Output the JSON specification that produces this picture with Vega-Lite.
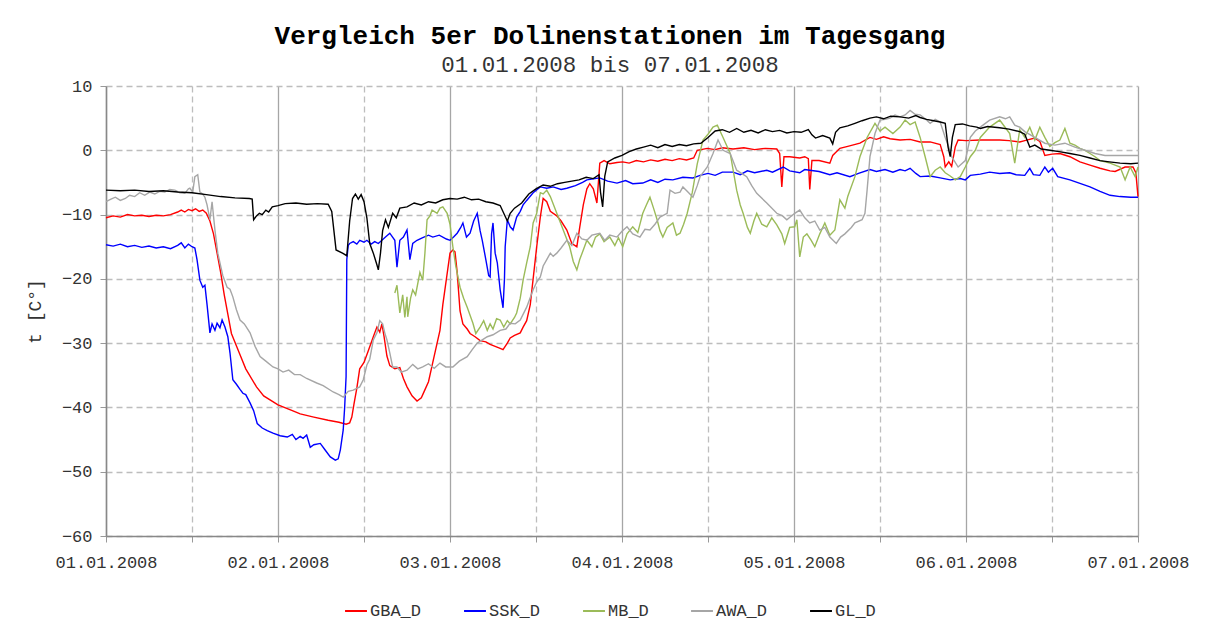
{
"$schema":"https://vega.github.io/schema/vega-lite/v6.json",
"autosize":"none","width":1032,"height":450,
"padding":{"left":106,"top":86,"right":70,"bottom":96},
"background":"white",
"title":{"text":"Vergleich 5er Dolinenstationen im Tagesgang","subtitle":"01.01.2008 bis 07.01.2008","font":"Liberation Mono","fontSize":26,"fontWeight":"bold","color":"#000","subtitleFont":"Liberation Mono","subtitleFontSize":22.5,"subtitleColor":"#333","subtitlePadding":5,"anchor":"middle","frame":"group","offset":1,"dx":-12},
"datasets":{
"GBA_D":[{"h":0,"v":-10.5},{"h":1,"v":-10.2},{"h":2,"v":-10.4},{"h":3,"v":-10.0},{"h":4,"v":-10.2},{"h":5,"v":-10.1},{"h":6,"v":-10.3},{"h":7,"v":-10.1},{"h":8,"v":-10.2},{"h":9,"v":-10.0},{"h":10,"v":-9.6},{"h":10.5,"v":-9.3},{"h":11,"v":-9.6},{"h":11.5,"v":-9.2},{"h":12,"v":-9.4},{"h":12.5,"v":-9.1},{"h":13,"v":-9.5},{"h":13.5,"v":-9.3},{"h":14,"v":-9.8},{"h":14.5,"v":-11},{"h":15,"v":-13},{"h":15.5,"v":-16},{"h":16,"v":-19},{"h":16.5,"v":-22.5},{"h":17,"v":-25.5},{"h":17.5,"v":-28.5},{"h":18.7,"v":-31.8},{"h":19.5,"v":-34},{"h":21,"v":-36.8},{"h":22,"v":-38.2},{"h":24,"v":-39.6},{"h":26,"v":-40.5},{"h":27.1,"v":-41},{"h":29,"v":-41.5},{"h":31,"v":-42},{"h":32.5,"v":-42.3},{"h":33.5,"v":-42.6},{"h":34,"v":-42.4},{"h":34.3,"v":-41.5},{"h":34.6,"v":-39.5},{"h":35,"v":-37},{"h":35.4,"v":-34},{"h":36,"v":-33},{"h":36.5,"v":-31.5},{"h":37.3,"v":-29},{"h":37.8,"v":-27.5},{"h":38.2,"v":-28.3},{"h":38.5,"v":-27},{"h":38.8,"v":-29},{"h":39.2,"v":-32},{"h":39.6,"v":-33.5},{"h":40.3,"v":-34},{"h":41,"v":-33.8},{"h":41.5,"v":-35.5},{"h":42,"v":-36.8},{"h":42.7,"v":-38.2},{"h":43.4,"v":-39},{"h":44,"v":-38.5},{"h":44.4,"v":-37.5},{"h":45,"v":-36},{"h":45.6,"v":-33},{"h":46.2,"v":-30},{"h":46.6,"v":-28},{"h":47,"v":-24},{"h":47.5,"v":-20},{"h":48,"v":-16},{"h":48.4,"v":-15.5},{"h":48.7,"v":-15.8},{"h":49,"v":-19},{"h":49.4,"v":-25},{"h":49.8,"v":-27},{"h":50.4,"v":-27.8},{"h":50.8,"v":-28.5},{"h":51.5,"v":-29},{"h":52.2,"v":-29.6},{"h":53,"v":-29.8},{"h":53.6,"v":-30.2},{"h":54.3,"v":-30.5},{"h":55,"v":-30.8},{"h":55.4,"v":-31},{"h":56,"v":-30},{"h":56.4,"v":-29.2},{"h":57,"v":-28.8},{"h":57.8,"v":-28.4},{"h":58.2,"v":-27.5},{"h":58.7,"v":-26.5},{"h":59.2,"v":-24},{"h":59.6,"v":-20},{"h":60.1,"v":-15},{"h":60.6,"v":-10.4},{"h":61,"v":-7.5},{"h":61.5,"v":-8},{"h":62,"v":-9.5},{"h":62.9,"v":-10.2},{"h":63.5,"v":-11},{"h":64.3,"v":-12.4},{"h":65,"v":-14.5},{"h":65.7,"v":-15},{"h":66.1,"v":-12},{"h":66.6,"v":-8.5},{"h":67.1,"v":-6},{"h":67.5,"v":-5.2},{"h":68,"v":-6},{"h":68.5,"v":-8.2},{"h":68.9,"v":-2},{"h":69.5,"v":-1.6},{"h":70.3,"v":-2.1},{"h":71.3,"v":-1.9},{"h":72.1,"v":-1.8},{"h":73,"v":-2.0},{"h":74,"v":-1.6},{"h":75,"v":-1.8},{"h":76,"v":-1.5},{"h":77,"v":-1.7},{"h":78,"v":-1.4},{"h":79,"v":-1.6},{"h":80,"v":-1.3},{"h":81,"v":-1.5},{"h":82,"v":-1.2},{"h":82.5,"v":0},{"h":83.9,"v":0.3},{"h":85,"v":0.1},{"h":86,"v":0.4},{"h":87.5,"v":0.2},{"h":89,"v":0.4},{"h":90.5,"v":0.1},{"h":92,"v":0.3},{"h":93.6,"v":0.2},{"h":94,"v":-0.5},{"h":94.3,"v":-5.7},{"h":94.6,"v":-1.0},{"h":95.4,"v":-1.0},{"h":96.8,"v":-1.2},{"h":97.5,"v":-1.0},{"h":98,"v":-1.3},{"h":98.2,"v":-6.1},{"h":98.5,"v":-1.6},{"h":99.5,"v":-1.6},{"h":101,"v":-2.0},{"h":101.4,"v":-0.8},{"h":102.4,"v":0.3},{"h":103.5,"v":0.6},{"h":105.2,"v":1.1},{"h":106.6,"v":2.0},{"h":107.5,"v":1.7},{"h":108.5,"v":2.1},{"h":109.4,"v":1.8},{"h":110.8,"v":1.6},{"h":112.2,"v":1.7},{"h":113.6,"v":1.3},{"h":115,"v":1.3},{"h":116.4,"v":0.9},{"h":116.9,"v":-1},{"h":117.1,"v":-2.6},{"h":117.6,"v":-1.8},{"h":118,"v":-2.5},{"h":118.5,"v":0.5},{"h":118.9,"v":1.6},{"h":120,"v":1.5},{"h":122,"v":1.6},{"h":124.7,"v":1.6},{"h":126,"v":1.5},{"h":127.5,"v":1.3},{"h":128.2,"v":1.5},{"h":129.6,"v":1.9},{"h":130.3,"v":1.4},{"h":131,"v":-0.8},{"h":132,"v":-0.6},{"h":133.1,"v":-0.5},{"h":134.5,"v":-1.0},{"h":135.9,"v":-1.8},{"h":137.3,"v":-2.3},{"h":138.7,"v":-2.8},{"h":140.1,"v":-3.2},{"h":140.8,"v":-3.3},{"h":142.2,"v":-2.6},{"h":143.3,"v":-2.6},{"h":143.7,"v":-3.5},{"h":144,"v":-7.2}],
"SSK_D":[{"h":0,"v":-14.7},{"h":1,"v":-14.9},{"h":2,"v":-14.6},{"h":3,"v":-15.0},{"h":4,"v":-14.8},{"h":5,"v":-15.1},{"h":6,"v":-14.9},{"h":7,"v":-15.2},{"h":8,"v":-15.0},{"h":9,"v":-15.3},{"h":10,"v":-14.8},{"h":10.5,"v":-14.4},{"h":11,"v":-15.2},{"h":11.5,"v":-14.6},{"h":12,"v":-15.0},{"h":12.4,"v":-15.2},{"h":12.7,"v":-17},{"h":13.1,"v":-20.2},{"h":13.5,"v":-21.3},{"h":13.8,"v":-21.0},{"h":14.1,"v":-24},{"h":14.5,"v":-28.4},{"h":14.8,"v":-27},{"h":15.2,"v":-28.0},{"h":15.5,"v":-26.9},{"h":15.9,"v":-27.6},{"h":16.2,"v":-26.4},{"h":16.6,"v":-27.5},{"h":17,"v":-29},{"h":17.3,"v":-31.5},{"h":17.7,"v":-35.7},{"h":18.2,"v":-36.4},{"h":18.7,"v":-37.2},{"h":19.1,"v":-37.8},{"h":19.5,"v":-38.0},{"h":20.1,"v":-39.3},{"h":20.6,"v":-40.5},{"h":21.1,"v":-42.5},{"h":21.8,"v":-43.2},{"h":22.5,"v":-43.6},{"h":23.3,"v":-44},{"h":24.3,"v":-44.4},{"h":25.3,"v":-44.6},{"h":26,"v":-44.2},{"h":26.5,"v":-45},{"h":27.1,"v":-44.5},{"h":27.5,"v":-44.8},{"h":28,"v":-44.3},{"h":28.5,"v":-46.2},{"h":29,"v":-45.8},{"h":29.9,"v":-45.6},{"h":30.5,"v":-46.5},{"h":31.3,"v":-47.7},{"h":32,"v":-48.2},{"h":32.4,"v":-48},{"h":32.7,"v":-46.6},{"h":33.1,"v":-43.5},{"h":33.3,"v":-40},{"h":33.5,"v":-35.2},{"h":33.6,"v":-17},{"h":33.8,"v":-14.8},{"h":34,"v":-14.5},{"h":34.5,"v":-14.2},{"h":35,"v":-14.6},{"h":35.4,"v":-14.0},{"h":36,"v":-14.3},{"h":36.4,"v":-14.0},{"h":37,"v":-14.6},{"h":37.5,"v":-14.2},{"h":38,"v":-14.5},{"h":38.5,"v":-14.0},{"h":39,"v":-13.5},{"h":39.6,"v":-12.9},{"h":40.3,"v":-14},{"h":40.6,"v":-18.2},{"h":41,"v":-14},{"h":41.5,"v":-13.5},{"h":42,"v":-12.4},{"h":42.4,"v":-17},{"h":42.8,"v":-14.5},{"h":43.4,"v":-14},{"h":44.2,"v":-13.6},{"h":45,"v":-13.2},{"h":45.6,"v":-13.5},{"h":46.5,"v":-13.2},{"h":47.5,"v":-13.8},{"h":48,"v":-14},{"h":48.5,"v":-13.5},{"h":49,"v":-12.9},{"h":49.5,"v":-12},{"h":49.8,"v":-11.3},{"h":50.3,"v":-13.5},{"h":50.8,"v":-12.9},{"h":51.3,"v":-11},{"h":51.8,"v":-9.8},{"h":52.2,"v":-12.5},{"h":52.5,"v":-14},{"h":53,"v":-17},{"h":53.4,"v":-19.5},{"h":53.6,"v":-19.7},{"h":53.8,"v":-13},{"h":54,"v":-11.3},{"h":54.3,"v":-16},{"h":54.6,"v":-17.5},{"h":55,"v":-21.7},{"h":55.4,"v":-24.5},{"h":55.6,"v":-20},{"h":55.7,"v":-15},{"h":56,"v":-10.8},{"h":56.4,"v":-11.9},{"h":56.8,"v":-12.4},{"h":57.3,"v":-10.4},{"h":57.8,"v":-9.5},{"h":58.2,"v":-8.5},{"h":58.7,"v":-7.8},{"h":59.6,"v":-6.6},{"h":60.6,"v":-5.7},{"h":61.5,"v":-5.9},{"h":62.4,"v":-5.7},{"h":63.5,"v":-6.1},{"h":64.3,"v":-5.9},{"h":65.5,"v":-5.5},{"h":66.5,"v":-5.0},{"h":67.1,"v":-4.6},{"h":68.9,"v":-4.3},{"h":70,"v":-4.8},{"h":71.3,"v":-5.1},{"h":72.5,"v":-4.7},{"h":73.5,"v":-5.2},{"h":74.9,"v":-5.1},{"h":76,"v":-4.6},{"h":77,"v":-5.0},{"h":78,"v":-4.5},{"h":79.1,"v":-4.6},{"h":80.5,"v":-4.2},{"h":81.9,"v":-4.3},{"h":82.9,"v":-3.9},{"h":84,"v":-3.6},{"h":85,"v":-3.9},{"h":86,"v":-3.4},{"h":87.5,"v":-3.4},{"h":88.5,"v":-3.8},{"h":89.5,"v":-3.2},{"h":90.5,"v":-3.5},{"h":92.2,"v":-3.1},{"h":93,"v":-3.4},{"h":94.5,"v":-2.6},{"h":95.4,"v":-3.2},{"h":96.8,"v":-3.5},{"h":97.5,"v":-3.0},{"h":98.2,"v":-3.1},{"h":99.5,"v":-3.3},{"h":101,"v":-3.8},{"h":102,"v":-3.5},{"h":103.8,"v":-4.1},{"h":105,"v":-3.6},{"h":106.6,"v":-3.0},{"h":107.5,"v":-3.3},{"h":108.7,"v":-3.0},{"h":109.8,"v":-3.4},{"h":110.8,"v":-3.0},{"h":111.5,"v":-3.2},{"h":112.2,"v":-2.8},{"h":113,"v":-3.6},{"h":113.6,"v":-4.1},{"h":115,"v":-4.0},{"h":116.4,"v":-4.3},{"h":117.8,"v":-4.6},{"h":119.2,"v":-4.4},{"h":119.9,"v":-4.6},{"h":120.6,"v":-3.9},{"h":122,"v":-3.7},{"h":123.3,"v":-3.4},{"h":124.7,"v":-3.6},{"h":126.1,"v":-3.5},{"h":127,"v":-3.8},{"h":128.2,"v":-3.9},{"h":128.9,"v":-2.8},{"h":129.4,"v":-3.8},{"h":130.3,"v":-3.9},{"h":131,"v":-2.6},{"h":131.5,"v":-3.4},{"h":132.1,"v":-2.8},{"h":132.8,"v":-4.1},{"h":134.5,"v":-4.6},{"h":136,"v":-5.2},{"h":137.3,"v":-5.7},{"h":138.7,"v":-6.4},{"h":140.1,"v":-7.0},{"h":141.5,"v":-7.2},{"h":143,"v":-7.3},{"h":144,"v":-7.3}],
"MB_D":[{"h":40.3,"v":-22.2},{"h":40.6,"v":-21.0},{"h":41,"v":-25.3},{"h":41.4,"v":-22.5},{"h":41.7,"v":-26},{"h":42,"v":-22.8},{"h":42.1,"v":-25.9},{"h":42.5,"v":-23},{"h":42.8,"v":-21.7},{"h":43.2,"v":-22.5},{"h":43.8,"v":-19},{"h":44.2,"v":-20.2},{"h":44.5,"v":-16},{"h":44.8,"v":-10.8},{"h":45.2,"v":-10.2},{"h":45.5,"v":-9.3},{"h":46.2,"v":-9.8},{"h":46.6,"v":-9.0},{"h":47,"v":-8.8},{"h":47.6,"v":-9.8},{"h":48,"v":-11.5},{"h":48.4,"v":-15},{"h":48.8,"v":-18},{"h":49.4,"v":-21.3},{"h":49.9,"v":-23},{"h":50.4,"v":-24.4},{"h":51.2,"v":-26.9},{"h":51.6,"v":-28.5},{"h":52.2,"v":-27.5},{"h":52.7,"v":-26.5},{"h":53.2,"v":-28},{"h":53.6,"v":-27},{"h":54,"v":-27.8},{"h":54.5,"v":-26.2},{"h":55,"v":-26.4},{"h":55.5,"v":-27.5},{"h":56,"v":-26.5},{"h":56.4,"v":-27},{"h":57,"v":-26},{"h":57.3,"v":-25.3},{"h":57.8,"v":-23},{"h":58.2,"v":-20.2},{"h":58.7,"v":-17.5},{"h":59.2,"v":-15},{"h":59.6,"v":-11.3},{"h":60.1,"v":-9.8},{"h":60.6,"v":-6.6},{"h":61,"v":-6.8},{"h":61.5,"v":-6.2},{"h":62,"v":-7.2},{"h":62.9,"v":-9.8},{"h":63.8,"v":-12.4},{"h":64.7,"v":-15},{"h":65.2,"v":-17.3},{"h":65.7,"v":-18.6},{"h":66.1,"v":-17},{"h":66.6,"v":-15.5},{"h":67.1,"v":-14},{"h":67.8,"v":-15},{"h":68.3,"v":-13.5},{"h":68.9,"v":-13},{"h":69.5,"v":-14.2},{"h":70.3,"v":-13.5},{"h":71,"v":-14.8},{"h":71.5,"v":-13.6},{"h":72.1,"v":-15},{"h":72.7,"v":-13},{"h":73.5,"v":-11.9},{"h":74.2,"v":-12.8},{"h":74.9,"v":-9.8},{"h":75.4,"v":-8.5},{"h":75.9,"v":-7.3},{"h":76.4,"v":-9},{"h":76.9,"v":-10.8},{"h":77.3,"v":-12.5},{"h":77.7,"v":-13.5},{"h":78.3,"v":-12},{"h":79.1,"v":-11.3},{"h":79.6,"v":-13.2},{"h":80.1,"v":-12.9},{"h":80.6,"v":-11.5},{"h":81.1,"v":-9.8},{"h":81.8,"v":-6.6},{"h":82.5,"v":-2.1},{"h":83.3,"v":1.6},{"h":84,"v":2.5},{"h":84.7,"v":3.6},{"h":85.3,"v":3.9},{"h":86.1,"v":2.0},{"h":87.1,"v":-0.5},{"h":88,"v":-6.2},{"h":88.5,"v":-8.5},{"h":88.9,"v":-9.8},{"h":89.5,"v":-12.0},{"h":89.9,"v":-12.9},{"h":90.4,"v":-11},{"h":90.8,"v":-9.8},{"h":91.5,"v":-11.5},{"h":92.2,"v":-11.9},{"h":92.9,"v":-10.5},{"h":93.6,"v":-11.6},{"h":94.3,"v":-13},{"h":94.7,"v":-14.5},{"h":95.4,"v":-12},{"h":96.1,"v":-11.9},{"h":96.4,"v":-10.8},{"h":96.8,"v":-16.6},{"h":97.3,"v":-13.5},{"h":97.8,"v":-13},{"h":98.4,"v":-14},{"h":98.9,"v":-15},{"h":99.6,"v":-13},{"h":100.3,"v":-11.3},{"h":101,"v":-13.2},{"h":101.7,"v":-12.4},{"h":102.4,"v":-7.7},{"h":103.1,"v":-9},{"h":103.5,"v":-7.2},{"h":104.5,"v":-4.1},{"h":105.2,"v":-1},{"h":106.2,"v":2},{"h":107.3,"v":4.2},{"h":108,"v":3.0},{"h":108.7,"v":3.6},{"h":109.8,"v":2.6},{"h":110.8,"v":3.6},{"h":111.5,"v":4.7},{"h":112.2,"v":4.0},{"h":112.9,"v":4.4},{"h":113.6,"v":2},{"h":114.3,"v":-1},{"h":115,"v":-4.1},{"h":115.7,"v":-3.1},{"h":116.4,"v":-2.6},{"h":117.1,"v":-3.5},{"h":117.8,"v":-4.0},{"h":118.5,"v":-4.6},{"h":119.2,"v":-4.1},{"h":119.9,"v":-2.6},{"h":120.6,"v":-1.0},{"h":121.3,"v":0},{"h":122,"v":2},{"h":123.3,"v":3.6},{"h":124.7,"v":4.7},{"h":125.5,"v":3.5},{"h":126.1,"v":2.6},{"h":126.8,"v":-2},{"h":127.5,"v":3.2},{"h":128.2,"v":2.0},{"h":128.9,"v":3.6},{"h":129.6,"v":1.6},{"h":130.3,"v":3.6},{"h":131,"v":2},{"h":131.7,"v":0.6},{"h":132.4,"v":1.2},{"h":133.1,"v":1.6},{"h":133.8,"v":3.4},{"h":134.5,"v":1.1},{"h":135.2,"v":0.8},{"h":135.9,"v":0.3},{"h":136.6,"v":0},{"h":137.3,"v":-0.5},{"h":138,"v":-1.0},{"h":138.7,"v":-1.6},{"h":139.4,"v":-1.8},{"h":140.1,"v":-2.0},{"h":140.8,"v":-2.3},{"h":141.5,"v":-2.6},{"h":142.2,"v":-4.6},{"h":142.9,"v":-2.6},{"h":143.6,"v":-4.1},{"h":144,"v":-2.6}],
"AWA_D":[{"h":0,"v":-8.0},{"h":0.7,"v":-7.6},{"h":1.3,"v":-7.3},{"h":2,"v":-7.8},{"h":2.7,"v":-7.5},{"h":3.3,"v":-7.0},{"h":4,"v":-7.2},{"h":4.7,"v":-6.6},{"h":5.4,"v":-7.0},{"h":6.1,"v":-6.5},{"h":6.8,"v":-6.8},{"h":7.5,"v":-6.4},{"h":8.2,"v":-6.5},{"h":8.9,"v":-6.1},{"h":9.6,"v":-6.2},{"h":10.3,"v":-6.6},{"h":11,"v":-6.7},{"h":11.5,"v":-6.0},{"h":11.7,"v":-5.9},{"h":12.1,"v":-6.5},{"h":12.4,"v":-4.1},{"h":12.8,"v":-3.8},{"h":13.1,"v":-6.5},{"h":13.5,"v":-6.8},{"h":13.8,"v":-7.3},{"h":14.1,"v":-8.5},{"h":14.5,"v":-10.8},{"h":14.8,"v":-8},{"h":15.2,"v":-12.4},{"h":15.6,"v":-16},{"h":15.9,"v":-17.5},{"h":16.3,"v":-19.5},{"h":16.9,"v":-21.3},{"h":17.3,"v":-21.6},{"h":17.7,"v":-22.8},{"h":18.2,"v":-24.8},{"h":18.7,"v":-26.4},{"h":19.3,"v":-27.0},{"h":20.1,"v":-28.4},{"h":20.8,"v":-30.5},{"h":21.5,"v":-32.1},{"h":22.3,"v":-32.8},{"h":23.3,"v":-33.7},{"h":24,"v":-34.0},{"h":24.7,"v":-34.5},{"h":25.5,"v":-34.2},{"h":26.3,"v":-34.9},{"h":27.1,"v":-34.9},{"h":28,"v":-35.5},{"h":29.4,"v":-36.2},{"h":30.3,"v":-36.6},{"h":31.7,"v":-37.6},{"h":32.5,"v":-38.0},{"h":33.1,"v":-38.4},{"h":33.8,"v":-37.5},{"h":34.5,"v":-37.3},{"h":35.4,"v":-36.8},{"h":35.9,"v":-35.7},{"h":36.4,"v":-33.4},{"h":36.8,"v":-32.5},{"h":37.3,"v":-29.5},{"h":37.8,"v":-28.4},{"h":38.2,"v":-26.5},{"h":38.6,"v":-27.0},{"h":38.9,"v":-28.4},{"h":39.2,"v":-29.5},{"h":39.6,"v":-31.5},{"h":40,"v":-33.7},{"h":40.6,"v":-33.7},{"h":41.2,"v":-34.5},{"h":42,"v":-34.2},{"h":42.8,"v":-33.3},{"h":43.5,"v":-34.0},{"h":44.2,"v":-33.7},{"h":45,"v":-33.2},{"h":45.8,"v":-33.9},{"h":46.6,"v":-33.1},{"h":47.4,"v":-33.7},{"h":48.4,"v":-33.7},{"h":49.3,"v":-32.8},{"h":50.4,"v":-32.1},{"h":51.1,"v":-31},{"h":51.8,"v":-30},{"h":52.5,"v":-29.5},{"h":53.2,"v":-29},{"h":54,"v":-28.7},{"h":55,"v":-28},{"h":55.8,"v":-27.8},{"h":56.4,"v":-26.9},{"h":57.1,"v":-27},{"h":57.8,"v":-26.4},{"h":58.7,"v":-24.4},{"h":59.6,"v":-21.7},{"h":60.1,"v":-20.5},{"h":60.6,"v":-19.7},{"h":61,"v":-18.0},{"h":61.5,"v":-17.0},{"h":62,"v":-16},{"h":62.4,"v":-16.5},{"h":62.9,"v":-16},{"h":63.5,"v":-15.2},{"h":64.3,"v":-14},{"h":65,"v":-14.8},{"h":65.7,"v":-12.9},{"h":66.4,"v":-13.8},{"h":67.1,"v":-14},{"h":67.8,"v":-13.2},{"h":68.9,"v":-12.9},{"h":69.6,"v":-14.0},{"h":70.3,"v":-13.2},{"h":71.3,"v":-13.5},{"h":72,"v":-12.6},{"h":72.7,"v":-11.9},{"h":73.5,"v":-13.0},{"h":74.5,"v":-13.5},{"h":75.2,"v":-12.3},{"h":75.9,"v":-12.4},{"h":76.6,"v":-11.5},{"h":77.3,"v":-10.4},{"h":78.3,"v":-9.8},{"h":78.7,"v":-6.2},{"h":79.4,"v":-6.7},{"h":80.1,"v":-6.5},{"h":80.5,"v":-5.7},{"h":81.2,"v":-6.5},{"h":81.9,"v":-7.3},{"h":82.5,"v":-5.5},{"h":82.9,"v":-4.1},{"h":83.9,"v":-2.6},{"h":84.7,"v":-0.5},{"h":85.4,"v":1.6},{"h":86.1,"v":0},{"h":87.1,"v":-0.5},{"h":88,"v":-3.1},{"h":89.4,"v":-4.1},{"h":90.1,"v":-5.5},{"h":90.8,"v":-6.7},{"h":92.2,"v":-8.2},{"h":93.6,"v":-9.8},{"h":94.4,"v":-10.2},{"h":95,"v":-10.8},{"h":96.1,"v":-9.8},{"h":96.8,"v":-9.3},{"h":97.5,"v":-10.5},{"h":98.2,"v":-11.3},{"h":98.9,"v":-11.0},{"h":99.6,"v":-12.4},{"h":100.3,"v":-12.0},{"h":101,"v":-13.5},{"h":101.9,"v":-14.5},{"h":102.5,"v":-13.5},{"h":103.1,"v":-13},{"h":104,"v":-12.0},{"h":104.5,"v":-11.3},{"h":105.5,"v":-10.8},{"h":105.9,"v":-9.8},{"h":106.2,"v":-6.2},{"h":106.6,"v":-1},{"h":107.3,"v":2.6},{"h":108,"v":4.7},{"h":108.7,"v":4.8},{"h":109.4,"v":5.0},{"h":110.1,"v":5.5},{"h":110.8,"v":5.2},{"h":111.5,"v":5.5},{"h":112.2,"v":6.2},{"h":112.9,"v":5.6},{"h":113.6,"v":5.5},{"h":114.3,"v":4.9},{"h":115,"v":4.2},{"h":115.7,"v":4.8},{"h":116.4,"v":4.4},{"h":117.1,"v":2.0},{"h":117.6,"v":0.5},{"h":118,"v":-1},{"h":118.9,"v":-2.6},{"h":119.9,"v":-1.6},{"h":120.6,"v":2},{"h":121.3,"v":3.0},{"h":122,"v":3.6},{"h":123.3,"v":4.7},{"h":124.7,"v":5.2},{"h":125.5,"v":4.9},{"h":126.1,"v":5.2},{"h":126.8,"v":3.9},{"h":127.5,"v":3.6},{"h":128.2,"v":2.9},{"h":129.6,"v":2.0},{"h":131,"v":1.1},{"h":132.4,"v":0.8},{"h":133.8,"v":1.1},{"h":135.2,"v":0.5},{"h":136.6,"v":0},{"h":138,"v":-0.5},{"h":139.4,"v":-0.8},{"h":141.5,"v":-0.8},{"h":144,"v":-0.8}],
"GL_D":[{"h":0,"v":-6.2},{"h":2,"v":-6.3},{"h":4,"v":-6.2},{"h":6,"v":-6.4},{"h":8,"v":-6.3},{"h":10,"v":-6.5},{"h":12,"v":-6.6},{"h":14,"v":-6.9},{"h":16,"v":-7.2},{"h":18,"v":-7.4},{"h":20,"v":-7.5},{"h":20.4,"v":-7.6},{"h":20.6,"v":-10.8},{"h":21,"v":-10.2},{"h":21.4,"v":-9.8},{"h":21.8,"v":-10.0},{"h":22.3,"v":-9.3},{"h":22.7,"v":-9.6},{"h":23.2,"v":-8.8},{"h":24,"v":-8.6},{"h":25,"v":-8.3},{"h":26.5,"v":-8.2},{"h":28,"v":-8.4},{"h":29.5,"v":-8.3},{"h":31,"v":-8.4},{"h":31.5,"v":-9.5},{"h":32.1,"v":-15.5},{"h":33,"v":-16.0},{"h":33.6,"v":-16.4},{"h":34,"v":-11},{"h":34.4,"v":-7.5},{"h":34.8,"v":-6.8},{"h":35.2,"v":-7.6},{"h":35.6,"v":-6.9},{"h":36,"v":-8},{"h":36.4,"v":-10.5},{"h":36.8,"v":-14.5},{"h":37.3,"v":-16},{"h":37.8,"v":-17.8},{"h":38,"v":-18.6},{"h":38.3,"v":-16},{"h":38.6,"v":-12.5},{"h":39,"v":-10.8},{"h":39.4,"v":-12},{"h":40,"v":-9.8},{"h":40.5,"v":-10.5},{"h":41,"v":-9},{"h":42,"v":-8.8},{"h":43,"v":-8.2},{"h":44,"v":-8.5},{"h":45,"v":-8.0},{"h":46,"v":-8.2},{"h":47,"v":-7.7},{"h":48,"v":-7.5},{"h":49,"v":-7.6},{"h":50,"v":-7.3},{"h":51,"v":-7.7},{"h":52,"v":-7.6},{"h":53,"v":-8.0},{"h":54,"v":-8.2},{"h":55,"v":-8.6},{"h":55.5,"v":-9.8},{"h":56,"v":-11.0},{"h":56.4,"v":-9.8},{"h":57,"v":-9.0},{"h":58,"v":-8.2},{"h":59,"v":-6.8},{"h":60,"v":-6.0},{"h":61,"v":-5.4},{"h":62,"v":-5.6},{"h":63,"v":-5.2},{"h":64,"v":-5.0},{"h":65,"v":-4.8},{"h":66,"v":-4.6},{"h":67,"v":-4.2},{"h":68,"v":-4.4},{"h":68.8,"v":-3.8},{"h":69,"v":-6.5},{"h":69.3,"v":-8.8},{"h":69.6,"v":-4},{"h":70,"v":-1.8},{"h":71,"v":-1.2},{"h":72,"v":-0.8},{"h":73,"v":-0.2},{"h":74,"v":0.2},{"h":75,"v":0.5},{"h":76,"v":0.8},{"h":77,"v":0.4},{"h":78,"v":0.9},{"h":79,"v":0.6},{"h":80,"v":0.9},{"h":81,"v":0.7},{"h":82,"v":1.0},{"h":83,"v":1.1},{"h":84,"v":2.0},{"h":85,"v":3.0},{"h":86,"v":3.2},{"h":87,"v":2.8},{"h":88,"v":3.4},{"h":89,"v":2.8},{"h":90,"v":3.1},{"h":91,"v":2.7},{"h":92,"v":3.2},{"h":93,"v":2.9},{"h":94,"v":3.1},{"h":95,"v":2.7},{"h":96,"v":2.9},{"h":97,"v":2.8},{"h":98,"v":3.2},{"h":98.5,"v":2.4},{"h":99,"v":1.9},{"h":100,"v":2.3},{"h":101,"v":1.9},{"h":101.4,"v":1.0},{"h":101.8,"v":2.8},{"h":102.4,"v":3.5},{"h":103.5,"v":3.8},{"h":104.5,"v":4.2},{"h":105.5,"v":4.6},{"h":106.6,"v":5.0},{"h":107.5,"v":5.2},{"h":108.5,"v":4.9},{"h":109.5,"v":5.3},{"h":110.8,"v":5.2},{"h":112,"v":5.0},{"h":113,"v":5.4},{"h":113.6,"v":5.1},{"h":114.5,"v":4.8},{"h":115.5,"v":4.6},{"h":116.4,"v":4.4},{"h":117.1,"v":4.2},{"h":117.5,"v":0.5},{"h":117.8,"v":-1.0},{"h":118.1,"v":2.0},{"h":118.5,"v":4.0},{"h":119.5,"v":4.1},{"h":120.5,"v":3.8},{"h":121.5,"v":3.6},{"h":122,"v":3.4},{"h":123,"v":3.7},{"h":124.7,"v":3.5},{"h":126,"v":3.3},{"h":127.5,"v":2.9},{"h":128.2,"v":2.5},{"h":128.9,"v":0.5},{"h":129.6,"v":0.8},{"h":130.5,"v":0.2},{"h":131.7,"v":0.0},{"h":133,"v":-0.2},{"h":134.5,"v":-0.5},{"h":135.9,"v":-0.8},{"h":137.3,"v":-1.2},{"h":138.7,"v":-1.6},{"h":140,"v":-1.8},{"h":141.5,"v":-2.0},{"h":143,"v":-2.1},{"h":144,"v":-2.0}]
},
"encoding":{
"x":{"field":"h","type":"quantitative","scale":{"domain":[0,144],"nice":false,"zero":false},
"axis":{"title":null,"values":[0,12,24,36,48,60,72,84,96,108,120,132,144],"labelExpr":"datum.value % 24 == 0 ? '0' + (datum.value/24+1) + '.01.2008' : ''","labelOverlap":false,"labelFlush":false,"labelBound":false,"grid":true,"gridColor":{"condition":{"test":"datum.value % 24 != 0","value":"#bdbdbd"},"value":"#a6a6a6"},"gridDash":{"condition":{"test":"datum.value % 24 != 0","value":[6,4]},"value":[]},"gridWidth":1.3,"tickColor":"#999","tickSize":6,"labelPadding":12,"labelFontSize":17,"labelColor":"#333","domainColor":"#888","domainWidth":1.5}},
"y":{"field":"v","type":"quantitative","scale":{"domain":[-60,10],"nice":false},
"axis":{"title":"t [C°]","values":[-60,-50,-40,-30,-20,-10,0,10],"grid":true,"gridDash":[6,4],"gridColor":"#bdbdbd","gridWidth":1.3,"tickColor":"#999","tickSize":6,"labelPadding":8,"labelFontSize":17,"labelColor":"#333","titleFontSize":18,"titleFontWeight":"normal","titleColor":"#333","titlePadding":17,"domainColor":"#888","domainWidth":1.5}}
},
"layer":[
{"data":{"name":"GBA_D"},"mark":{"type":"line","strokeWidth":1.4},"encoding":{"color":{"datum":"GBA_D"}}},
{"data":{"name":"SSK_D"},"mark":{"type":"line","strokeWidth":1.4},"encoding":{"color":{"datum":"SSK_D"}}},
{"data":{"name":"MB_D"},"mark":{"type":"line","strokeWidth":1.4},"encoding":{"color":{"datum":"MB_D"}}},
{"data":{"name":"AWA_D"},"mark":{"type":"line","strokeWidth":1.4},"encoding":{"color":{"datum":"AWA_D"}}},
{"data":{"name":"GL_D"},"mark":{"type":"line","strokeWidth":1.4},"encoding":{"color":{"datum":"GL_D","type":"nominal","scale":{"domain":["GBA_D","SSK_D","MB_D","AWA_D","GL_D"],"range":["#ff0000","#0000ff","#9bbb59","#a6a6a6","#000000"]},"legend":{"orient":"none","legendX":238,"legendY":513,"direction":"horizontal","title":null,"symbolType":"stroke","symbolSize":480,"symbolStrokeWidth":2,"labelFontSize":17,"labelColor":"#333","columnPadding":38,"labelOffset":2}}}}
],
"config":{"font":"Liberation Mono","view":{"stroke":null}}
}
